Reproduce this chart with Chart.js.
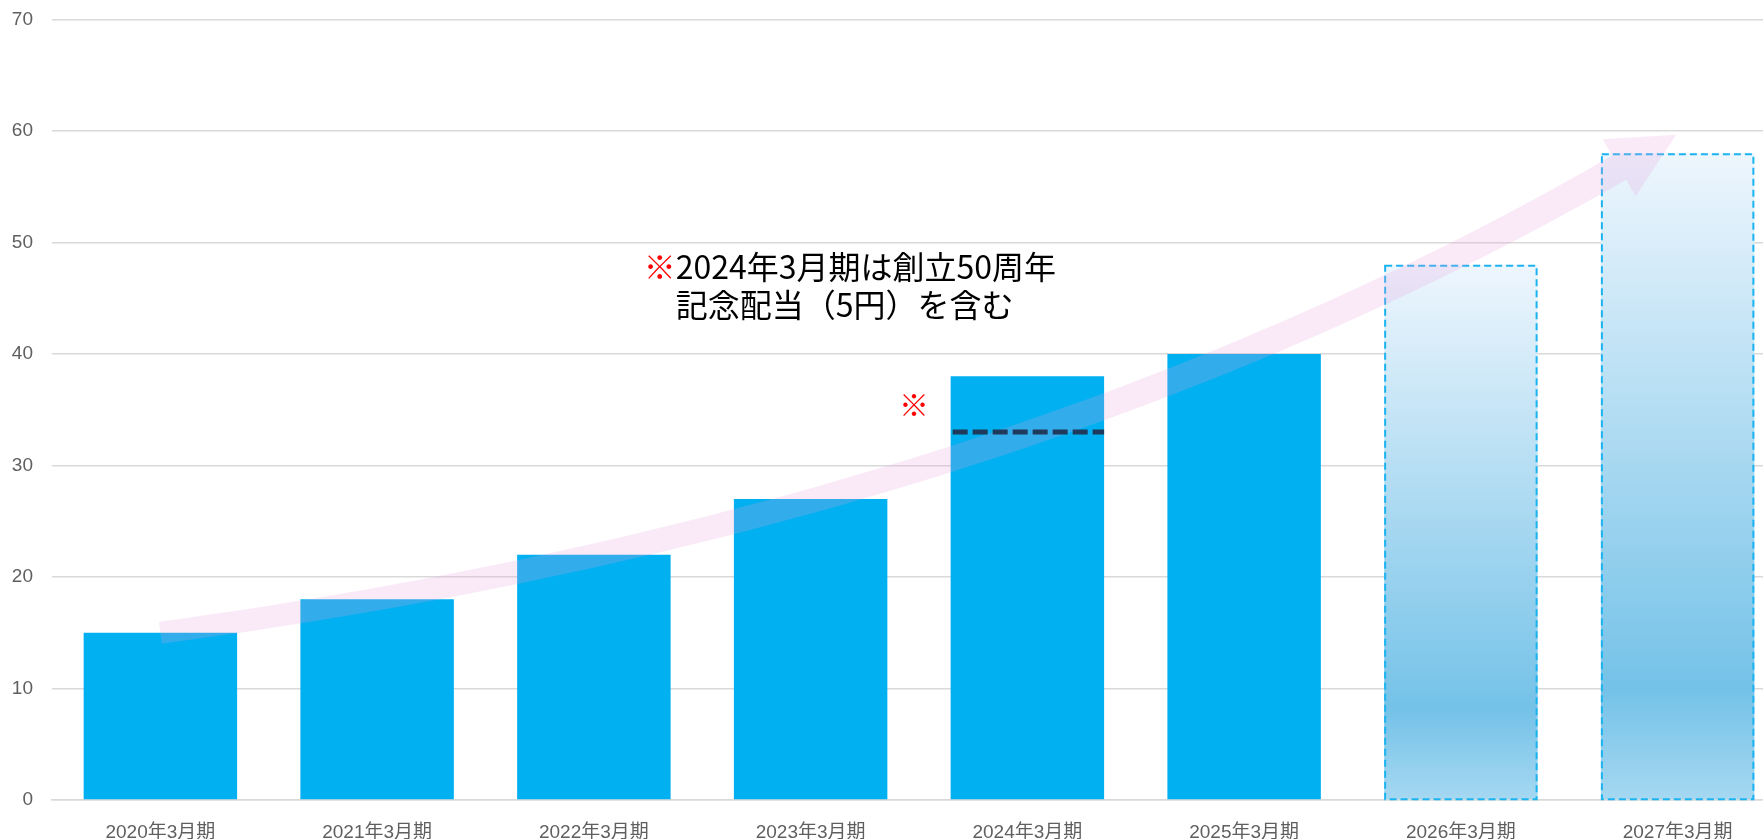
<!DOCTYPE html>
<html lang="ja">
<head>
<meta charset="utf-8">
<title>配当推移</title>
<script src="https://cdn.jsdelivr.net/npm/chart.js@4/dist/chart.umd.min.js"></script>
<style>
  html, body { margin: 0; padding: 0; background: #fff; overflow: hidden; }
  #wrap { position: absolute; left: 0; top: -11px; width: 1786px; height: 861px; }
</style>
</head>
<body>
<div id="wrap"><canvas id="dividend-chart"></canvas></div>
<script>
// data
const periods = ['2020年3月期', '2021年3月期', '2022年3月期', '2023年3月期', '2024年3月期', '2025年3月期', '2026年3月期', '2027年3月期'];
const actualDividends = [15, 18, 22, 27, 38, 40, null, null];
const forecastDividends = [null, null, null, null, null, null, 48, 58];
const ordinaryDividend2024 = 33; // 38 incl. 5 yen commemorative
const yTicks = [0, 10, 20, 30, 40, 50, 60, 70];

const noteLines = ['2024年3月期は創立50周年', '記念配当（5円）を含む'];
const axisFont = "'Liberation Sans', Arial, 'Noto Sans CJK JP', sans-serif";
const noteFont = "'Noto Sans CJK JP', sans-serif";

// gradient for forecast bars, built per bar from the y scale
function forecastFill(ctx) {
  const chart = ctx.chart;
  if (!chart.chartArea || ctx.raw == null) return 'rgba(0,0,0,0)';
  const y = chart.scales.y;
  const top = y.getPixelForValue(ctx.raw);
  const base = y.getPixelForValue(0);
  const g = chart.ctx.createLinearGradient(0, top, 0, base);
  g.addColorStop(0, '#eef6fd');
  g.addColorStop(0.83, '#74c2e8');
  g.addColorStop(1, '#a6d8f1');
  return g;
}

// pink growth arrow (category index, value) control points
const arrowPath = { p0: [0.0, 15.0], p1: [3.93, 25.3], p2: [6.73, 56.7] };

const decorations = {
  id: 'decorations',
  afterDatasetsDraw(chart) {
    const c = chart.ctx;
    const xs = chart.scales.x, ys = chart.scales.y;

    // dashed outline on forecast bars
    const fMeta = chart.getDatasetMeta(1);
    c.save();
    c.strokeStyle = '#1cb4f0';
    c.lineWidth = 2;
    c.setLineDash([7, 4]);
    fMeta.data.forEach((el, i) => {
      if (forecastDividends[i] == null) return;
      const w = el.width;
      c.strokeRect(el.x - w / 2 + 1, el.y + 1, w - 2, el.base - el.y - 1);
    });
    c.restore();

    // arrow
    const P = ['p0', 'p1', 'p2'].map(k => [xs.getPixelForValue(arrowPath[k][0]), ys.getPixelForValue(arrowPath[k][1])]);
    const N = 80;
    const upper = [], lower = [];
    for (let i = 0; i <= N; i++) {
      const t = i / N, mt = 1 - t;
      const px = mt * mt * P[0][0] + 2 * mt * t * P[1][0] + t * t * P[2][0];
      const py = mt * mt * P[0][1] + 2 * mt * t * P[1][1] + t * t * P[2][1];
      let dx = 2 * mt * (P[1][0] - P[0][0]) + 2 * t * (P[2][0] - P[1][0]);
      let dy = 2 * mt * (P[1][1] - P[0][1]) + 2 * t * (P[2][1] - P[1][1]);
      const len = Math.hypot(dx, dy);
      dx /= len; dy /= len;
      const hw = 11 + 3 * t;
      upper.push([px + dy * hw, py - dx * hw]);
      lower.push([px - dy * hw, py + dx * hw]);
    }
    let ux = P[2][0] - P[1][0], uy = P[2][1] - P[1][1];
    const ul = Math.hypot(ux, uy);
    ux /= ul; uy /= ul;
    const tip = [P[2][0] + ux * 66, P[2][1] + uy * 66];
    const cA = [P[2][0] + uy * 33, P[2][1] - ux * 33];
    const cB = [P[2][0] - uy * 33, P[2][1] + ux * 33];
    c.save();
    c.beginPath();
    c.moveTo(upper[0][0], upper[0][1]);
    upper.forEach(p => c.lineTo(p[0], p[1]));
    c.lineTo(cA[0], cA[1]);
    c.lineTo(tip[0], tip[1]);
    c.lineTo(cB[0], cB[1]);
    for (let i = lower.length - 1; i >= 0; i--) c.lineTo(lower[i][0], lower[i][1]);
    c.closePath();
    c.fillStyle = 'rgba(232, 160, 222, 0.22)';
    c.fill();
    c.restore();

    // ordinary dividend line inside 2024 bar
    const el = chart.getDatasetMeta(0).data[4];
    const ly = ys.getPixelForValue(ordinaryDividend2024);
    c.save();
    c.strokeStyle = '#1f3a5a';
    c.lineWidth = 5;
    c.setLineDash([15, 5]);
    c.beginPath();
    c.moveTo(el.x - el.width / 2 + 2, ly);
    c.lineTo(el.x + el.width / 2, ly);
    c.stroke();
    c.restore();

    // red mark next to 2024 bar
    c.save();
    c.font = '30px ' + noteFont;
    c.fillStyle = '#ff0000';
    c.textAlign = 'center';
    c.textBaseline = 'middle';
    c.fillText('※', xs.getPixelForValue(3.477), ys.getPixelForValue(35.5));
    c.restore();

    // note
    c.save();
    c.font = '32px ' + noteFont;
    c.textBaseline = 'middle';
    c.textAlign = 'left';
    const nx = xs.getPixelForValue(2.23);
    const markW = c.measureText('※').width;
    c.fillStyle = '#ff0000';
    c.fillText('※', nx, ys.getPixelForValue(47.8));
    c.fillStyle = '#000';
    c.fillText(noteLines[0], nx + markW, ys.getPixelForValue(47.8));
    c.fillText(noteLines[1], nx + markW, ys.getPixelForValue(44.4));
    c.restore();
  }
};

new Chart(document.getElementById('dividend-chart'), {
  type: 'bar',
  data: {
    labels: periods,
    datasets: [
      {
        label: '実績',
        data: actualDividends,
        backgroundColor: '#00b0f0',
        barPercentage: 0.708,
        categoryPercentage: 1,
        grouped: false
      },
      {
        label: '予想',
        data: forecastDividends,
        backgroundColor: forecastFill,
        barPercentage: 0.708,
        categoryPercentage: 1,
        grouped: false
      }
    ]
  },
  options: {
    responsive: true,
    maintainAspectRatio: false,
    animation: false,
    layout: { padding: { top: 5, right: 0, bottom: 0, left: 0 } },
    plugins: {
      legend: { display: false },
      tooltip: { enabled: false }
    },
    scales: {
      x: {
        grid: { display: false },
        border: { color: '#d9d9d9', width: 1.5 },
        ticks: {
          color: '#5f5f5f',
          padding: 13,
          maxRotation: 0,
          font: { family: axisFont, size: 19 }
        },
        afterFit(scale) { scale.height = 50; }
      },
      y: {
        min: 0,
        max: 70,
        afterBuildTicks(scale) { scale.ticks = yTicks.map(v => ({ value: v })); },
        grid: { color: '#d9d9d9', lineWidth: 1.5, drawTicks: false },
        border: { display: false },
        ticks: {
          color: '#5f5f5f',
          padding: 19,
          font: { family: axisFont, size: 19 }
        },
        afterFit(scale) { scale.width = 52; }
      }
    }
  },
  plugins: [decorations]
});
</script>
</body>
</html>
